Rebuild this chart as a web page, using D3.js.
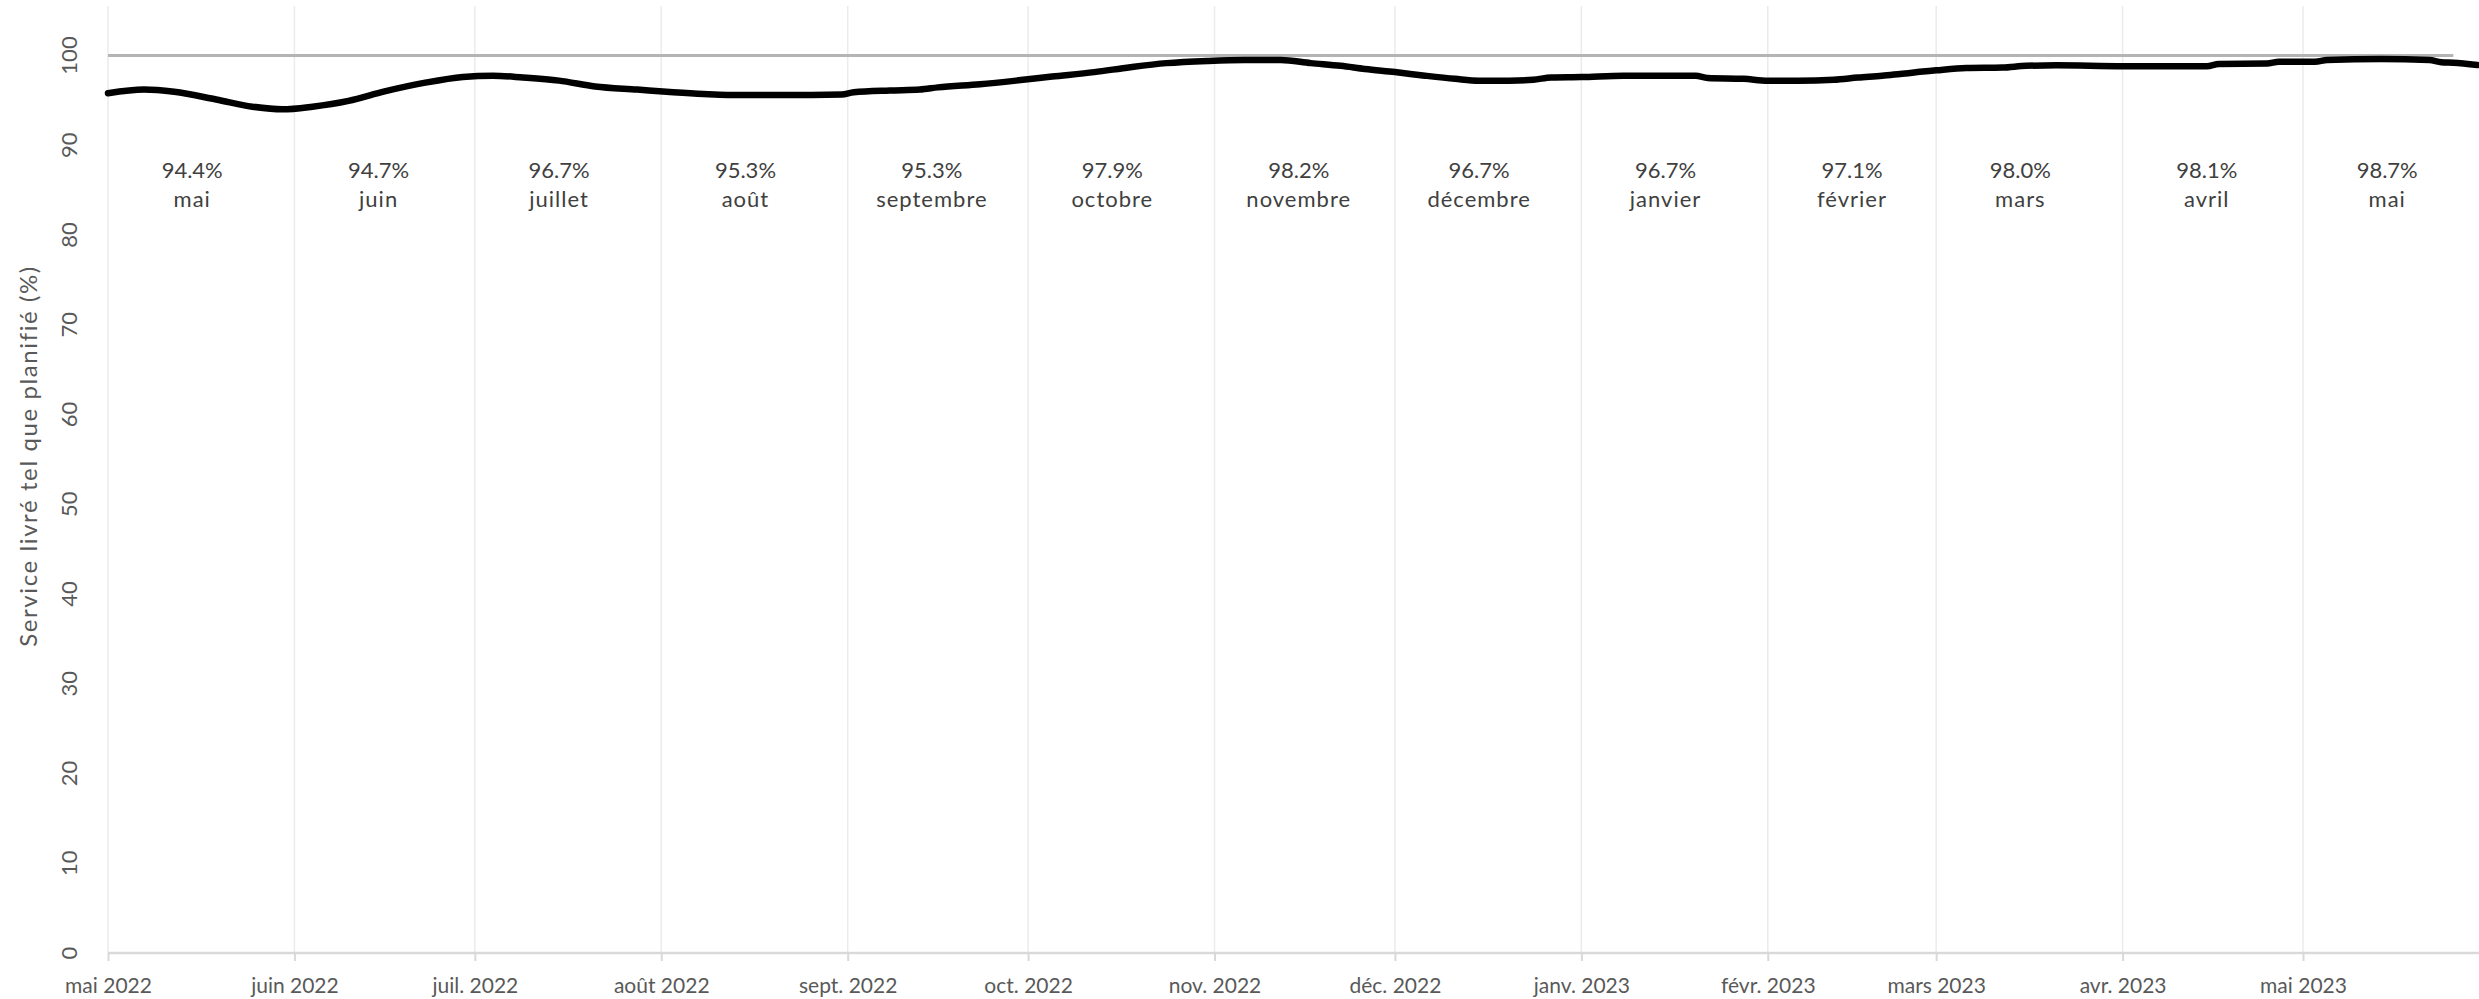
<!DOCTYPE html>
<html>
<head>
<meta charset="utf-8">
<script src="https://cdn.jsdelivr.net/npm/d3@7"></script>
<style>
  html, body { margin: 0; padding: 0; background: #ffffff; }
  svg { display: block; }
  text { font-family: Lato, "Open Sans", sans-serif; }
</style>
</head>
<body>
<svg id="chart" width="2479" height="999"></svg>
<script>
// ---- Data ----
const serviceDates = [
  "2022-05-01","2022-05-07","2022-05-12","2022-05-19","2022-05-25","2022-05-30",
  "2022-06-04","2022-06-10","2022-06-16","2022-06-23","2022-06-29",
  "2022-07-04","2022-07-09","2022-07-15","2022-07-21","2022-07-28",
  "2022-08-03","2022-08-08","2022-08-12","2022-08-19","2022-08-26","2022-08-31",
  "2022-09-02","2022-09-08","2022-09-13","2022-09-16","2022-09-23","2022-09-29",
  "2022-10-05","2022-10-12","2022-10-18","2022-10-24","2022-10-31",
  "2022-11-06","2022-11-12","2022-11-17","2022-11-22","2022-11-26",
  "2022-12-01","2022-12-06","2022-12-11","2022-12-15","2022-12-20","2022-12-24","2022-12-27",
  "2023-01-01","2023-01-08","2023-01-20","2023-01-22","2023-01-28",
  "2023-02-01","2023-02-06","2023-02-12","2023-02-16","2023-02-20","2023-02-23",
  "2023-03-01","2023-03-06","2023-03-12","2023-03-16","2023-03-21",
  "2023-04-01","2023-04-15","2023-04-17","2023-04-25","2023-04-27",
  "2023-05-03","2023-05-05","2023-05-14","2023-05-22","2023-05-24","2023-05-26","2023-05-30"
];
const serviceValues = [
  95.8, 96.2, 95.95, 95.1, 94.3, 94.0,
  94.3, 94.95, 96.0, 97.0, 97.6,
  97.75, 97.55, 97.2, 96.55, 96.2,
  95.9, 95.7, 95.6, 95.6, 95.6, 95.65,
  95.9, 96.1, 96.2, 96.45, 96.8, 97.2,
  97.65, 98.15, 98.7, 99.15, 99.4,
  99.5, 99.5, 99.15, 98.85, 98.5,
  98.15, 97.75, 97.4, 97.2, 97.2, 97.3, 97.55,
  97.6, 97.75, 97.75, 97.5, 97.4,
  97.2, 97.2, 97.3, 97.55, 97.75, 97.95,
  98.35, 98.6, 98.65, 98.85, 98.9,
  98.8, 98.8, 99.05, 99.1, 99.3,
  99.3, 99.5, 99.6, 99.5, 99.25, 99.2, 98.95
];
const targetDates = ["2022-05-01", "2023-05-26"];
const targetValues = [100, 100];

const monthTickDates = [
  "2022-05-01","2022-06-01","2022-07-01","2022-08-01","2022-09-01","2022-10-01",
  "2022-11-01","2022-12-01","2023-01-01","2023-02-01","2023-03-01","2023-04-01","2023-05-01"
];
const monthTickLabels = [
  "mai 2022","juin 2022","juil. 2022","août 2022","sept. 2022","oct. 2022",
  "nov. 2022","déc. 2022","janv. 2023","févr. 2023","mars 2023","avr. 2023","mai 2023"
];
const monthLabelDates = [
  "2022-05-15","2022-06-15","2022-07-15","2022-08-15","2022-09-15","2022-10-15",
  "2022-11-15","2022-12-15","2023-01-15","2023-02-15","2023-03-15","2023-04-15","2023-05-15"
];
const monthNames = ["mai","juin","juillet","août","septembre","octobre","novembre",
  "décembre","janvier","février","mars","avril","mai"];
const monthPercents = [94.4, 94.7, 96.7, 95.3, 95.3, 97.9, 98.2, 96.7, 96.7, 97.1, 98.0, 98.1, 98.7];
const yTickValues = [0, 10, 20, 30, 40, 50, 60, 70, 80, 90, 100];
const yAxisTitle = "Service livré tel que planifié (%)";

// ---- Layout ----
const W = 2479, H = 999;
const plotLeft = 108, plotTop = 6, plotBottom = 953;
const parse = d3.utcParse("%Y-%m-%d");

const x = d3.scaleUtc()
  .domain([parse("2022-05-01"), parse("2023-05-01")])
  .range([plotLeft, 2303]);
const y = d3.scaleLinear().domain([0, 100]).range([plotBottom, 55.5]);

const svg = d3.select("#chart");

// vertical gridlines at month starts
svg.append("g").selectAll("line")
  .data(monthTickDates.map(parse))
  .join("line")
  .attr("x1", d => x(d)).attr("x2", d => x(d))
  .attr("y1", plotTop).attr("y2", plotBottom)
  .attr("stroke", "#ebebeb").attr("stroke-width", 1.5);

// x axis
const xAxis = d3.axisBottom(x)
  .tickValues(monthTickDates.map(parse))
  .tickFormat((d, i) => monthTickLabels[i])
  .tickSize(8).tickPadding(17);
const gx = svg.append("g").attr("transform", `translate(0,${plotBottom})`).call(xAxis);
gx.select(".domain").remove();
gx.selectAll(".tick line").attr("stroke", "#d9d9d9").attr("stroke-width", 2);
gx.selectAll(".tick text")
  .attr("fill", "#595959").style("font-size", "21px")
  .style("font-family", "Lato, 'Open Sans', sans-serif");
gx.append("line")
  .attr("x1", plotLeft).attr("x2", W).attr("y1", 0).attr("y2", 0)
  .attr("stroke", "#d9d9d9").attr("stroke-width", 2.5);

// y tick labels (rotated)
svg.append("g").selectAll("text")
  .data(yTickValues)
  .join("text")
  .attr("transform", d => `translate(68,${y(d)}) rotate(-90)`)
  .attr("text-anchor", "middle")
  .attr("dominant-baseline", "central")
  .attr("fill", "#595959")
  .style("font-size", "22px")
  .text(d => d);

// y axis title
svg.append("text")
  .attr("transform", `translate(27,456) rotate(-90)`)
  .attr("text-anchor", "middle")
  .attr("dominant-baseline", "central")
  .attr("fill", "#595959")
  .style("font-size", "24px")
  .style("letter-spacing", "1.6px")
  .text(yAxisTitle);

// target line at 100
const targetData = targetDates.map((d, i) => ({ date: parse(d), value: targetValues[i] }));
svg.append("path")
  .datum(targetData)
  .attr("fill", "none")
  .attr("stroke", "#b4b4b4")
  .attr("stroke-width", 3)
  .attr("d", d3.line().x(d => x(d.date)).y(d => y(d.value)));

// service line
const serviceData = serviceDates.map((d, i) => ({ date: parse(d), value: serviceValues[i] }));
svg.append("path")
  .datum(serviceData)
  .attr("fill", "none")
  .attr("stroke", "#000000")
  .attr("stroke-width", 6.5)
  .attr("stroke-linejoin", "round")
  .attr("stroke-linecap", "round")
  .attr("d", d3.line().curve(d3.curveMonotoneX).x(d => x(d.date)).y(d => y(d.value)));

// monthly annotations
const ann = svg.append("g").selectAll("g")
  .data(monthLabelDates.map((d, i) => ({ date: parse(d), pct: monthPercents[i], name: monthNames[i] })))
  .join("g")
  .attr("transform", d => `translate(${x(d.date)},0)`);
ann.append("text")
  .attr("y", 178).attr("text-anchor", "middle")
  .attr("fill", "#404040").style("font-size", "22px")
  .text(d => d.pct.toFixed(1) + "%");
ann.append("text")
  .attr("y", 207).attr("text-anchor", "middle")
  .attr("fill", "#404040").style("font-size", "22px")
  .style("letter-spacing", "1px")
  .text(d => d.name);
</script>
</body>
</html>
